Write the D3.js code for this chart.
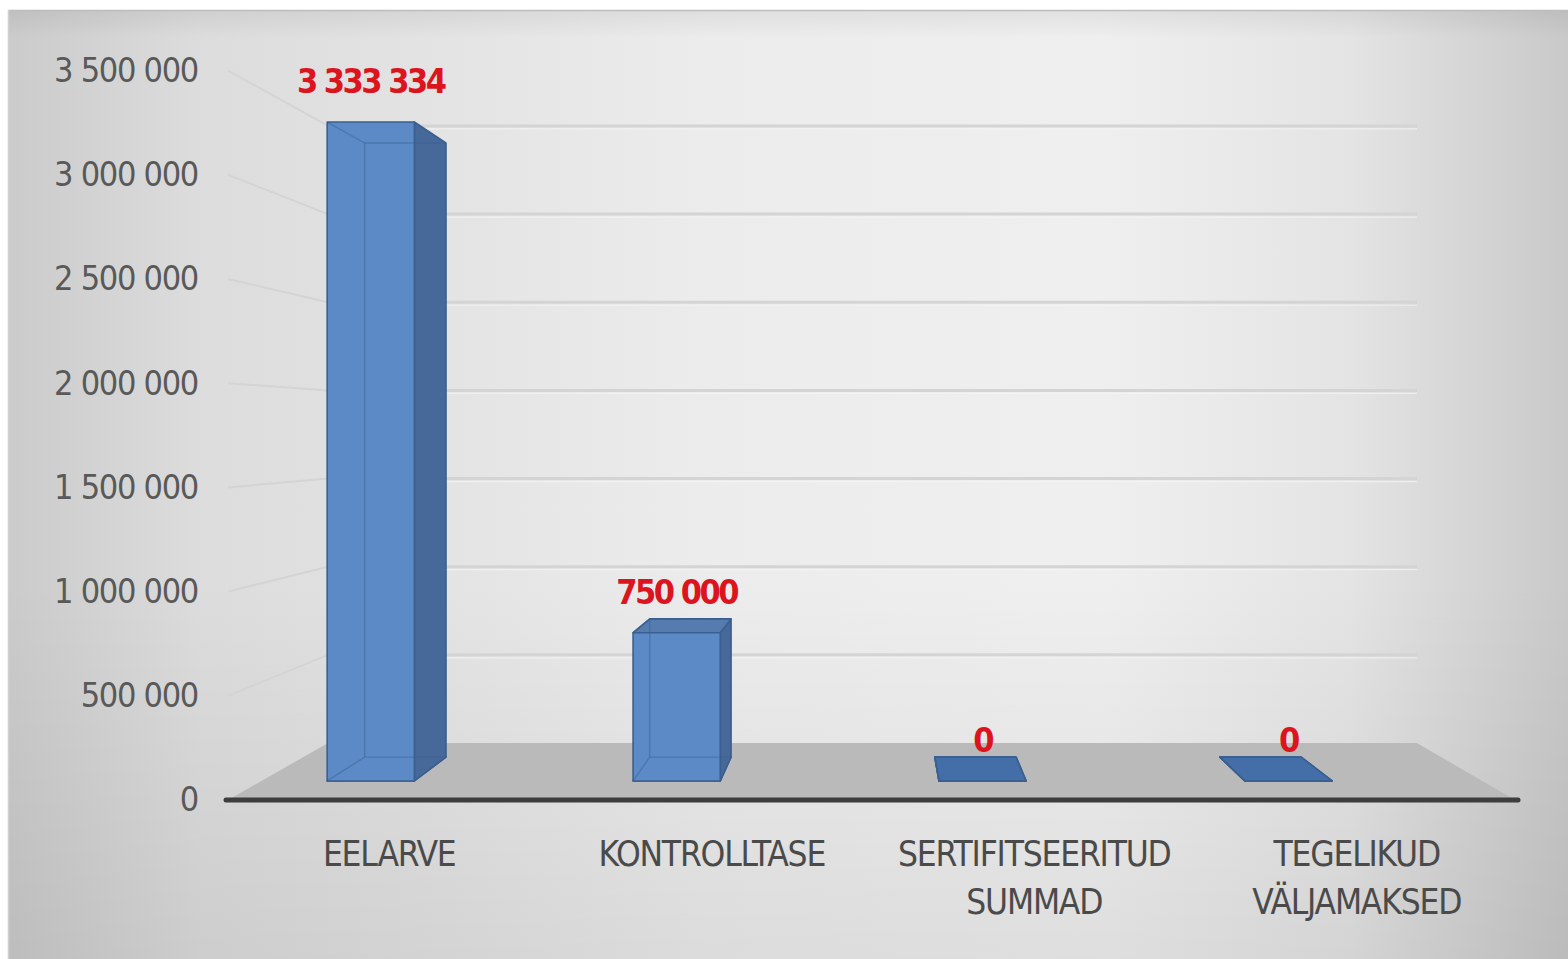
<!DOCTYPE html>
<html>
<head>
<meta charset="utf-8" />
<script src="https://d3js.org/d3.v7.min.js"></script>
<style>
  body { margin: 0; background: #fff; }
  svg { display: block; }
  .lbl { font-family: "DejaVu Sans Condensed", "Liberation Sans Narrow", sans-serif; font-stretch: condensed; }
</style>
</head>
<body>
<div id="chart"></div>
<script>
// données du graphique
const categories = ["EELARVE", "KONTROLLTASE", "SERTIFITSEERITUD SUMMAD", "TEGELIKUD VÄLJAMAKSED"];
const categoryLines = [["EELARVE"], ["KONTROLLTASE"], ["SERTIFITSEERITUD", "SUMMAD"], ["TEGELIKUD", "VÄLJAMAKSED"]];
const values = [3333334, 750000, 0, 0];
const yTicks = [0, 500000, 1000000, 1500000, 2000000, 2500000, 3000000, 3500000];

const W = 1568, H = 959;

// perspective : point de fuite et profondeur
const vp = { x: 878, y: 430 };
const k = 0.182;
const scaleAt = z => 1 / (1 + k * z);
const proj = (xf, yf, z) => {
  const s = scaleAt(z);
  return [vp.x + (xf - vp.x) * s, vp.y + (yf - vp.y) * s];
};
const barZ = [0.298, 0.721];

const fmt = d3.formatLocale({ decimal: ",", thousands: " ", grouping: [3], currency: ["", ""] }).format(",");

const y = d3.scaleLinear().domain([0, 3500000]).range([800, 70.6]);
const xLabel = d3.scaleBand().domain(categories).range([228, 1518]);
const xBar = d3.scaleBand().domain(categories).range([182, 1472])
  .paddingInner(0.715).paddingOuter(0.3575);
const floorX = [228, 1515];

const svg = d3.select("#chart").append("svg")
  .attr("width", W).attr("height", H);

const defs = svg.append("defs");
const bgH = defs.append("linearGradient").attr("id", "bgH")
  .attr("x1", 0).attr("x2", 1).attr("y1", 0).attr("y2", 0);
[[0, "#cbcbcb"], [0.12, "#dcdcdc"], [0.45, "#ececec"], [0.7, "#efefef"], [0.86, "#e4e4e4"], [1, "#c9c9c9"]]
  .forEach(([o, c]) => bgH.append("stop").attr("offset", o).attr("stop-color", c));
const bgV = defs.append("linearGradient").attr("id", "bgV")
  .attr("x1", 0).attr("x2", 0).attr("y1", 0).attr("y2", 1);
[[0, "#000", 0.06], [0.03, "#000", 0.0], [0.6, "#000", 0.0], [1, "#000", 0.07]]
  .forEach(([o, c, a]) => bgV.append("stop").attr("offset", o).attr("stop-color", c).attr("stop-opacity", a));

// fond
svg.append("rect").attr("x", 8).attr("y", 10).attr("width", W - 8).attr("height", H - 10)
  .attr("fill", "url(#bgH)");
svg.append("rect").attr("x", 8).attr("y", 10).attr("width", W - 8).attr("height", H - 10)
  .attr("fill", "url(#bgV)");
svg.append("line").attr("x1", 8).attr("x2", W).attr("y1", 10.5).attr("y2", 10.5)
  .attr("stroke", "#bdbdbd").attr("stroke-width", 1.5);
svg.append("line").attr("x1", 8.5).attr("x2", 8.5).attr("y1", 10).attr("y2", H)
  .attr("stroke", "#d0d0d0").attr("stroke-width", 1.5);

// quadrillage du mur gauche
svg.append("g").selectAll("line").data(yTicks.filter(d => d > 0)).enter().append("line")
  .attr("x1", floorX[0]).attr("y1", d => y(d))
  .attr("x2", d => proj(floorX[0], y(d), 1)[0]).attr("y2", d => proj(floorX[0], y(d), 1)[1])
  .attr("stroke", "#d4d4d4").attr("stroke-width", 2);

// quadrillage du mur du fond
const grid = svg.append("g");
grid.selectAll("line.g").data(yTicks.filter(d => d > 0)).enter().append("line")
  .attr("class", "g")
  .attr("x1", d => proj(floorX[0], y(d), 1)[0]).attr("x2", d => proj(floorX[1], y(d), 1)[0])
  .attr("y1", d => proj(floorX[0], y(d), 1)[1]).attr("y2", d => proj(floorX[0], y(d), 1)[1])
  .attr("stroke", "#d4d4d4").attr("stroke-width", 3);
grid.selectAll("line.h").data(yTicks.filter(d => d > 0)).enter().append("line")
  .attr("class", "h")
  .attr("x1", d => proj(floorX[0], y(d), 1)[0]).attr("x2", d => proj(floorX[1], y(d), 1)[0])
  .attr("y1", d => proj(floorX[0], y(d), 1)[1] + 3).attr("y2", d => proj(floorX[0], y(d), 1)[1] + 3)
  .attr("stroke", "#f6f6f6").attr("stroke-width", 1.2).attr("opacity", 0.7);

// sol
const floorPts = [proj(floorX[0], y(0), 0), proj(floorX[1], y(0), 0), proj(floorX[1], y(0), 1), proj(floorX[0], y(0), 1)];
svg.append("path").attr("d", "M" + floorPts.join("L") + "Z").attr("fill", "#bababa");

// axe horizontal
svg.append("line").attr("x1", 226).attr("x2", 1518).attr("y1", y(0)).attr("y2", y(0))
  .attr("stroke", "#3d3d3d").attr("stroke-width", 5).attr("stroke-linecap", "round");

// barres 3D
const bars = svg.append("g");
categories.forEach((c, i) => {
  const x0 = xBar(c), x1 = xBar(c) + xBar.bandwidth();
  const y0 = y(0), y1 = y(values[i]);
  const [za, zb] = barZ;
  const P = (xx, yy, zz) => proj(xx, yy, zz);
  const face = (pts, fill, op) => bars.append("path")
    .attr("d", "M" + pts.join("L") + "Z")
    .attr("fill", fill).attr("fill-opacity", op)
    .attr("stroke", "#3a5f90").attr("stroke-width", 1.6).attr("stroke-linejoin", "round");
  // dessous
  face([P(x0, y0, za), P(x1, y0, za), P(x1, y0, zb), P(x0, y0, zb)], "#3b6195", 1);
  // côtés visibles
  if (x1 < vp.x) face([P(x1, y0, za), P(x1, y0, zb), P(x1, y1, zb), P(x1, y1, za)], "#46699a", 1);
  if (x0 > vp.x) face([P(x0, y0, za), P(x0, y0, zb), P(x0, y1, zb), P(x0, y1, za)], "#46699a", 1);
  // dessus
  if (y1 > vp.y) face([P(x0, y1, za), P(x1, y1, za), P(x1, y1, zb), P(x0, y1, zb)], "#4670a8", 0.9);
  // face avant
  face([P(x0, y0, za), P(x1, y0, za), P(x1, y1, za), P(x0, y1, za)], "#5b8ac7", 1);
  // arêtes cachées vues par transparence
  const hidden = [
    [P(x0, y0, zb), P(x1, y0, zb)], [P(x0, y1, zb), P(x1, y1, zb)],
    [P(x0, y0, zb), P(x0, y1, zb)], [P(x1, y0, zb), P(x1, y1, zb)],
    [P(x0, y0, za), P(x0, y0, zb)], [P(x0, y1, za), P(x0, y1, zb)]
  ];
  bars.selectAll(null).data(hidden).enter().append("line")
    .attr("x1", d => d[0][0]).attr("y1", d => d[0][1])
    .attr("x2", d => d[1][0]).attr("y2", d => d[1][1])
    .attr("stroke", "#3a5f90").attr("stroke-width", 1.4).attr("opacity", 0.45);
});

// étiquettes de données
svg.append("g").selectAll("text").data(categories).enter().append("text")
  .attr("class", "lbl")
  .attr("x", (c) => proj(xBar(c) + xBar.bandwidth() / 2, y(0), barZ[0])[0])
  .attr("y", (c, i) => proj(xBar(c), y(values[i]), barZ[0])[1] - 29)
  .attr("text-anchor", "middle")
  .attr("font-size", 34).attr("font-weight", "bold").attr("letter-spacing", -2.5)
  .attr("fill", "#dc141e")
  .text((c, i) => fmt(values[i]));

// axe des valeurs
const yAxis = svg.append("g").attr("transform", "translate(198,0)")
  .call(d3.axisLeft(y).tickValues(yTicks).tickSize(0).tickPadding(0).tickFormat(fmt));
yAxis.select(".domain").remove();
yAxis.selectAll("text").attr("class", "lbl").attr("font-size", 34).attr("letter-spacing", -1.3)
  .attr("fill", "#595959");

// axe des catégories
const xAxis = svg.append("g").attr("transform", `translate(0,${y(0)})`)
  .call(d3.axisBottom(xLabel).tickSize(0).tickPadding(0));
xAxis.select(".domain").remove();
xAxis.selectAll("text").attr("class", "lbl").attr("font-size", 35).attr("letter-spacing", -1.2)
  .attr("fill", "#4a4a4a")
  .attr("y", 66).attr("dy", null)
  .text(null)
  .each(function (c) {
    const lines = categoryLines[categories.indexOf(c)];
    d3.select(this).selectAll("tspan").data(lines).enter().append("tspan")
      .attr("x", 0).attr("dy", (d, j) => j === 0 ? 0 : 48).text(d => d);
  });
</script>
</body>
</html>
